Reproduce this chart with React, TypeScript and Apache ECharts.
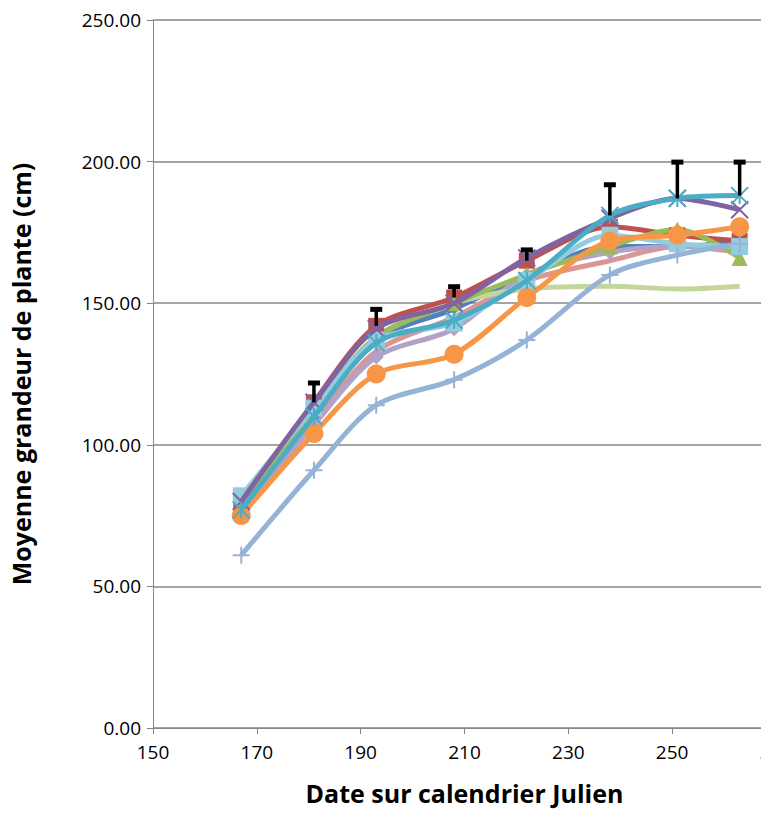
import React, { useEffect, useRef } from "react";
import * as echarts from "echarts";

const days = [167, 181, 193, 208, 222, 238, 251, 263];

const blueDiamond = [78, 110, 137, 148, 160, 170, 170, 172];
const redSquare = [77, 115, 142, 152, 165, 177, 174, 172];
const greenTriangle = [78, 113, 138, 150, 160, 170, 176, 166];
const purpleCross = [80, 115, 141, 150, 166, 180, 187, 183];
const cyanStar = [77, 110, 136, 144, 158, 181, 187, 188];
const orangeCircle = [75, 104, 125, 132, 152, 172, 174, 177];
const lightBluePlus = [61, 91, 114, 123, 137, 160, 167, 171];
const pinkLine = [76, 108, 133, 145, 158, 165, 170, 168];
const lilacDiamond = [76, 107, 131, 141, 160, 168, 170, 170];
const paleGreenLine = [78, 110, 138, 150, 155, 156, 155, 156];
const paleCyanSquare = [82, 113, 137, 143, 158, 174, 171, 170];

const errDays = [181, 193, 208, 222, 238, 251, 263];
const errLow = [115, 142, 152, 165, 181, 187, 188];
const errHigh = [122, 148, 156, 169, 192, 200, 200];

const yTicks = [0, 50, 100, 150, 200, 250];

const crossPath = "path://M0,0L10,10M10,0L0,10";
const plusPath = "path://M5,0L5,10M0,5L10,5";
const starPath = "path://M0,0L10,10M10,0L0,10M5,0L5,10";

export default function App() {
  const ref = useRef<HTMLDivElement>(null);

  useEffect(() => {
    if (!ref.current) return;
    const chart = echarts.init(ref.current, undefined, { renderer: "svg" });
    const pts = (vals: number[]) => days.map((d, i) => [d, vals[i]]);
    const line = (
      name: string,
      vals: number[],
      color: string,
      symbol: string,
      size: number,
      z: number,
      strokeSymbol = false
    ) => ({
      name,
      type: "line",
      smooth: 0.3,
      data: pts(vals),
      symbol,
      symbolSize: size,
      z,
      lineStyle: { color, width: 5 },
      itemStyle: strokeSymbol
        ? { color: "none", borderColor: color, borderWidth: 2 }
        : { color },
    });

    chart.setOption({
      animation: false,
      grid: { left: 153, top: 20, width: 623, height: 708, outerBoundsMode: "none", containLabel: false },
      xAxis: {
        type: "value",
        min: 150,
        max: 270,
        interval: 20,
        name: "Date sur calendrier Julien",
        nameLocation: "middle",
        nameGap: 52,
        nameTextStyle: { fontFamily: "Open Sans", fontWeight: "bold", fontSize: 25, color: "#000" },
        axisLine: { lineStyle: { color: "#868686" } },
        axisTick: { show: true, length: 6, lineStyle: { color: "#868686" } },
        axisLabel: { fontFamily: "Open Sans", fontSize: 19, color: "#000", margin: 14 },
        splitLine: { show: false },
      },
      yAxis: {
        type: "value",
        min: 0,
        max: 250,
        interval: 50,
        name: "Moyenne grandeur de plante (cm)",
        nameLocation: "middle",
        nameGap: 120,
        nameTextStyle: { fontFamily: "Open Sans", fontWeight: "bold", fontSize: 25, color: "#000" },
        axisLine: { show: true, lineStyle: { color: "#868686" } },
        axisTick: { show: true, length: 6, lineStyle: { color: "#868686" } },
        axisLabel: {
          fontFamily: "Open Sans",
          fontSize: 19,
          color: "#000",
          margin: 12,
          formatter: (v: number) => (yTicks.includes(v) ? v.toFixed(2) : ""),
        },
        splitLine: { lineStyle: { color: "#868686", width: 1.5 } },
      },
      series: [
        line("S1", blueDiamond, "#4F81BD", "diamond", 12, 2),
        line("S2", redSquare, "#C0504D", "rect", 16, 3),
        line("S3", greenTriangle, "#9BBB59", "triangle", 16, 3),
        line("S4", purpleCross, "#8064A2", crossPath, 17, 5, true),
        line("S8", pinkLine, "#D99694", "none", 0, 2),
        line("S9", lilacDiamond, "#B3A2C7", "diamond", 15, 2),
        line("S10", paleGreenLine, "#C3D69B", "none", 0, 2),
        line("S11", paleCyanSquare, "#93CDDD", "rect", 17, 3),
        line("S7", lightBluePlus, "#95B3D7", plusPath, 17, 3, true),
        line("S6", orangeCircle, "#F79646", "circle", 19, 4),
        line("S5", cyanStar, "#4BACC6", starPath, 17, 6, true),
        {
          type: "custom",
          z: 10,
          data: errDays.map((d, i) => [d, errLow[i], errHigh[i]]),
          renderItem: (_p: any, api: any) => {
            const lo = api.coord([api.value(0), api.value(1)]);
            const hi = api.coord([api.value(0), api.value(2)]);
            return {
              type: "group",
              children: [
                { type: "line", shape: { x1: lo[0], y1: lo[1], x2: hi[0], y2: hi[1] }, style: { stroke: "#000", lineWidth: 3.5 } },
                { type: "rect", shape: { x: hi[0] - 6, y: hi[1] - 2, width: 12, height: 5 }, style: { fill: "#000" } },
              ],
            };
          },
        },
      ],
    });
    return () => chart.dispose();
  }, []);

  return <div ref={ref} style={{ width: 769, height: 822, margin: -8 }} />;
}
